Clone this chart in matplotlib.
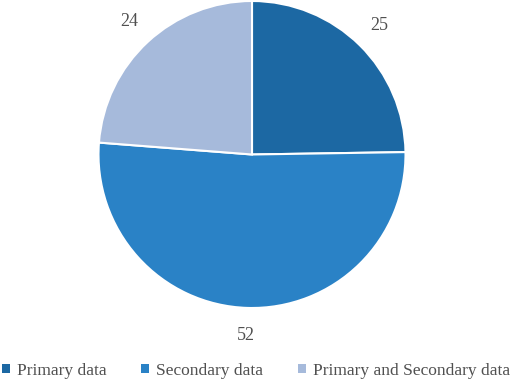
import matplotlib.pyplot as plt
from matplotlib.patches import Patch

categories = ['Primary data', 'Secondary data', 'Primary and Secondary data']
values = [25, 52, 24]
colors = ['#1c68a3', '#2a82c6', '#a6badb']

plt.rcParams['font.family'] = ['Liberation Serif', 'DejaVu Serif']

fig = plt.figure(figsize=(5.12, 3.85), dpi=100)
ax = fig.add_axes([98 / 512, 1 - 308 / 385, 308 / 512, 307 / 385])

wedges, texts = ax.pie(values, colors=colors, startangle=90, counterclock=False,
                       labels=[str(v) for v in values], labeldistance=1.18,
                       wedgeprops=dict(edgecolor='white', linewidth=1.5),
                       textprops=dict(fontsize=13, color='#505050'))
for t in texts:
    t.set_ha('center')
    t.set_va('center')
ax.set_xlim(-1, 1)
ax.set_ylim(-1, 1)
ax.set_aspect('equal')

handles = [Patch(facecolor=c, edgecolor='none') for c in colors]
fig.legend(handles, categories, loc='lower center', bbox_to_anchor=(0.5, -0.025),
           ncol=3, frameon=False, handlelength=0.45, handleheight=0.45,
           handletextpad=0.4, columnspacing=2.0,
           prop=dict(size=12.5), labelcolor='#505050')

fig.savefig('out.png', dpi=100, facecolor='white')
